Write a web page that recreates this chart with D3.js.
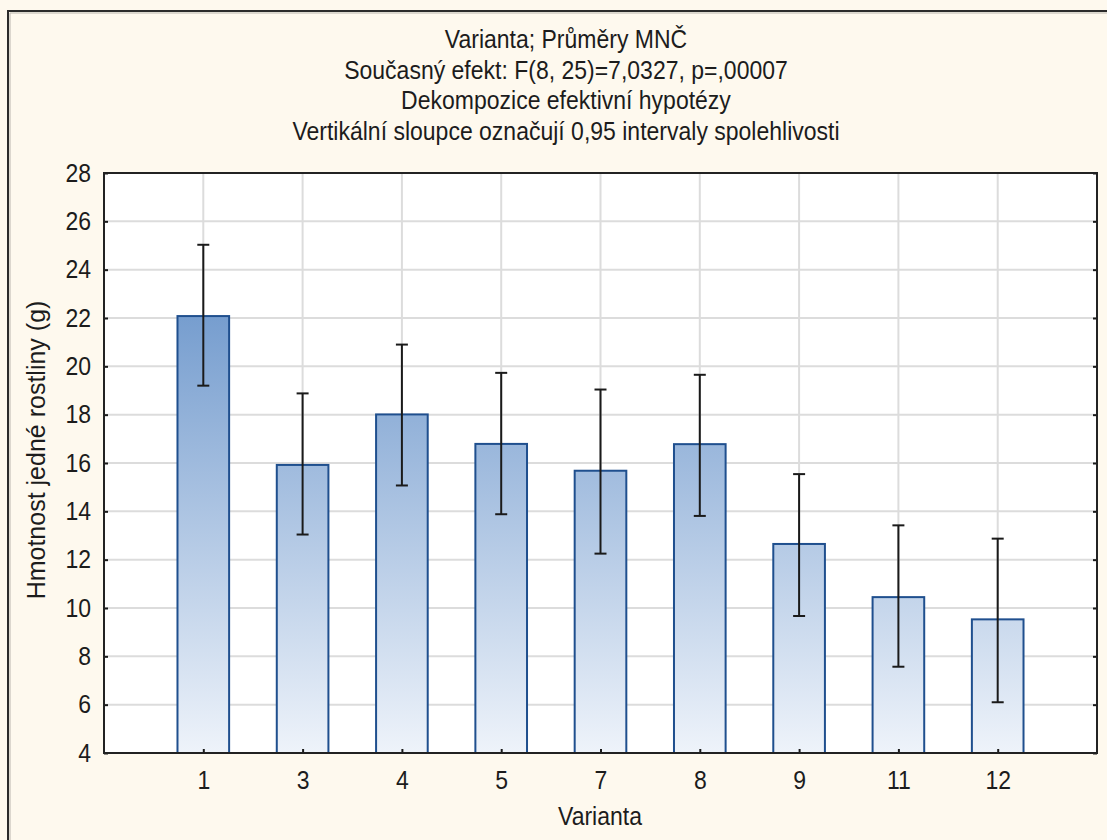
<!DOCTYPE html>
<html>
<head>
<meta charset="utf-8">
<script src="https://cdn.jsdelivr.net/npm/d3@7"></script>
<style>
  html, body { margin: 0; padding: 0; background: #fef9ee; }
  svg { display: block; }
  text { font-family: "Liberation Sans", Arial, sans-serif; fill: #1c1c1c; }
</style>
</head>
<body>
<svg id="chart" width="1107" height="840"></svg>
<script>
// Varianty (kategorie na ose X)
const categories = ["1", "3", "4", "5", "7", "8", "9", "11", "12"];
// Průměry MNČ – hmotnost jedné rostliny (g)
const means = [22.08, 15.92, 18.01, 16.79, 15.68, 16.78, 12.65, 10.45, 9.53];
// Dolní a horní mez 0,95 intervalu spolehlivosti
const ciLower = [19.20, 13.04, 15.07, 13.88, 12.25, 13.81, 9.67, 7.57, 6.10];
const ciUpper = [25.03, 18.88, 20.90, 19.73, 19.04, 19.65, 15.54, 13.42, 12.87];
// Hodnoty na ose Y
const yTicks = [4, 6, 8, 10, 12, 14, 16, 18, 20, 22, 24, 26, 28];

const titleLines = [
  "Varianta; Průměry MNČ",
  "Současný efekt: F(8, 25)=7,0327, p=,00007",
  "Dekompozice efektivní hypotézy",
  "Vertikální sloupce označují 0,95 intervaly spolehlivosti"
];
const xTitle = "Varianta";
const yTitle = "Hmotnost jedné rostliny (g)";

const W = 1107, H = 840;
const plot = { left: 104, right: 1097, top: 173, bottom: 753 };
const FONT = 25;      // velikost písma
const SX = 0.92;      // mírně zúžené písmo

const svg = d3.select("#chart");

// Squeeze a text element horizontally around its anchor x
function squeeze(sel, ax) {
  sel.attr("transform", function () {
    const a = ax != null ? ax : +(d3.select(this).attr("x") || 0);
    const prev = d3.select(this).attr("transform") || "";
    return prev + ` translate(${a},0) scale(${SX},1) translate(${-a},0)`;
  });
}

// Outer frame
svg.append("rect")
  .attr("x", 8).attr("y", 11).attr("width", W + 20).attr("height", H + 20)
  .attr("fill", "#fef9ee").attr("stroke", "#2b2b2b").attr("stroke-width", 2);
svg.append("path")
  .attr("d", `M10,${H + 10} V13 H${W + 10}`)
  .attr("fill", "none").attr("stroke", "#b9b6ae").attr("stroke-width", 1);

const x = d3.scalePoint().domain(categories).range([plot.left, plot.right]).padding(1);
const y = d3.scaleLinear().domain([4, 28]).range([plot.bottom, plot.top]);

// Plot background
svg.append("rect")
  .attr("x", plot.left).attr("y", plot.top)
  .attr("width", plot.right - plot.left).attr("height", plot.bottom - plot.top)
  .attr("fill", "#ffffff");

// Gridlines
const grid = svg.append("g").attr("stroke", "#dcdcdc").attr("stroke-width", 2);
grid.selectAll("line.h").data(yTicks.slice(1, -1)).join("line")
  .attr("class", "h")
  .attr("x1", plot.left).attr("x2", plot.right)
  .attr("y1", d => y(d)).attr("y2", d => y(d));
grid.selectAll("line.v").data(categories).join("line")
  .attr("class", "v")
  .attr("x1", d => x(d)).attr("x2", d => x(d))
  .attr("y1", plot.top).attr("y2", plot.bottom);

// Bar gradient in value space
const defs = svg.append("defs");
const grad = defs.append("linearGradient")
  .attr("id", "barGrad").attr("gradientUnits", "userSpaceOnUse")
  .attr("x1", 0).attr("x2", 0).attr("y1", y(22)).attr("y2", y(4));
grad.append("stop").attr("offset", "0%").attr("stop-color", "#779ecf");
grad.append("stop").attr("offset", "100%").attr("stop-color", "#eef3fa");

const barW = x.step() * 0.52;
const rows = categories.map((c, i) => ({ c, m: means[i], lo: ciLower[i], hi: ciUpper[i] }));

svg.append("g").selectAll("rect").data(rows).join("rect")
  .attr("x", d => x(d.c) - barW / 2)
  .attr("y", d => y(d.m))
  .attr("width", barW)
  .attr("height", d => y(4) - y(d.m))
  .attr("fill", "url(#barGrad)")
  .attr("stroke", "#1f4f8e").attr("stroke-width", 2);

// Confidence interval whiskers
const capW = 12;
const eb = svg.append("g").attr("stroke", "#1a1a1a").attr("stroke-width", 2);
eb.selectAll("line.s").data(rows).join("line").attr("class", "s")
  .attr("x1", d => x(d.c)).attr("x2", d => x(d.c))
  .attr("y1", d => y(d.hi)).attr("y2", d => y(d.lo));
eb.selectAll("line.t").data(rows).join("line").attr("class", "t")
  .attr("x1", d => x(d.c) - capW / 2).attr("x2", d => x(d.c) + capW / 2)
  .attr("y1", d => y(d.hi)).attr("y2", d => y(d.hi));
eb.selectAll("line.b").data(rows).join("line").attr("class", "b")
  .attr("x1", d => x(d.c) - capW / 2).attr("x2", d => x(d.c) + capW / 2)
  .attr("y1", d => y(d.lo)).attr("y2", d => y(d.lo));

// Axes
const yAxis = svg.append("g")
  .attr("transform", `translate(${plot.left},0)`)
  .call(d3.axisLeft(y).tickValues(yTicks).tickSizeInner(-4).tickSizeOuter(0).tickPadding(13));
const yAxisR = svg.append("g")
  .attr("transform", `translate(${plot.right},0)`)
  .call(d3.axisRight(y).tickValues(yTicks).tickSizeInner(-4).tickSizeOuter(0).tickFormat(""));
const xAxis = svg.append("g")
  .attr("transform", `translate(0,${plot.bottom})`)
  .call(d3.axisBottom(x).tickSizeInner(-4).tickSizeOuter(0).tickPadding(18));

[yAxis, yAxisR, xAxis].forEach(g => {
  g.select(".domain").remove();
  g.selectAll(".tick line").attr("stroke", "#1a1a1a").attr("stroke-width", 2);
  g.selectAll("text").attr("font-size", FONT).attr("font-family", null).attr("fill", "#1c1c1c");
});
yAxis.selectAll(".tick text").each(function () { squeeze(d3.select(this), -13); });
xAxis.selectAll(".tick text").each(function () { squeeze(d3.select(this), 0); });

// Plot border
svg.append("rect")
  .attr("x", plot.left).attr("y", plot.top)
  .attr("width", plot.right - plot.left).attr("height", plot.bottom - plot.top)
  .attr("fill", "none").attr("stroke", "#222").attr("stroke-width", 2);

// Titles
const tcx = 566;
svg.append("g").selectAll("text").data(titleLines).join("text")
  .attr("x", tcx).attr("y", (d, i) => 48 + i * 30.7)
  .attr("text-anchor", "middle").attr("font-size", FONT)
  .text(d => d)
  .each(function () { squeeze(d3.select(this), tcx); });

svg.append("text")
  .attr("x", 600).attr("y", 825).attr("text-anchor", "middle")
  .attr("font-size", FONT).text(xTitle)
  .each(function () { squeeze(d3.select(this), 600); });

svg.append("text")
  .attr("transform", `translate(45,450) rotate(-90)`)
  .attr("text-anchor", "middle").attr("font-size", FONT)
  .text(yTitle);
</script>
</body>
</html>
